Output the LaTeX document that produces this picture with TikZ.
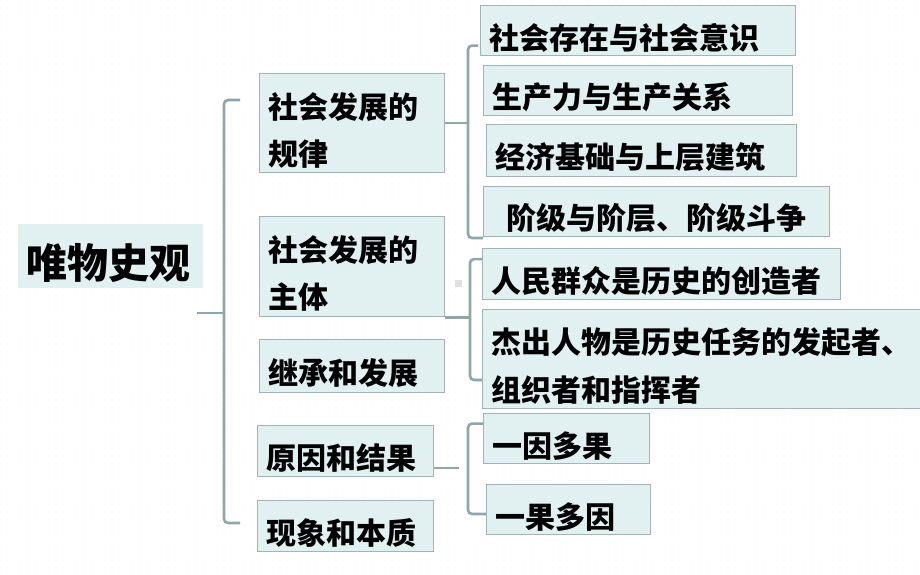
\documentclass[tikz,border=0pt]{standalone}
\usepackage{fontspec}
\setmainfont{Noto Sans CJK SC}
\usetikzlibrary{patterns.meta}
\definecolor{boxfill}{HTML}{E1F1F2}
\definecolor{boxline}{HTML}{A3B4B7}
\definecolor{braceline}{HTML}{8FA6AB}
\definecolor{dotcol}{HTML}{C9DEDC}
\tikzset{
  box/.style={draw=boxline, line width=1.2pt, fill=boxfill, anchor=north west,
    inner xsep=9pt, inner ysep=0pt, align=left,
    font=\fontsize{30pt}{47pt}\selectfont\bfseries,
    execute at begin node=\rule{0pt}{40pt}},
  rootbox/.style={box, draw=none, font=\fontsize{41pt}{48pt}\selectfont\bfseries,
    execute at begin node=\rule{0pt}{50pt}},
  brace/.style={draw=braceline, line width=2.6pt, rounded corners=4pt}
}
\begin{document}
\begin{tikzpicture}[x=1pt,y=-1pt]
\useasboundingbox (0,0) rectangle (920,575);
\fill[pattern={Dots[radius=0.45pt, distance=7pt]}, pattern color=dotcol] (0,0) rectangle (920,575);
% root
\node[rootbox, text width=167pt, minimum height=64pt] (hist) at (17,223) {唯物史观};
% first level
\node[box, text width=167pt, minimum height=99pt] (law) at (259,73) {社会发展的\\规律};
\node[box, text width=167pt, minimum height=100pt] (subj) at (259,216) {社会发展的\\主体};
\node[box, text width=167pt, minimum height=53pt] (inherit) at (259,339) {继承和发展};
\node[box, text width=158pt, minimum height=51pt] (cause) at (257,425) {原因和结果};
\node[box, text width=158pt, minimum height=51pt] (essence) at (257,500) {现象和本质};
% second level: law
\node[box, text width=297pt, minimum height=50pt] (being) at (480,5) {社会存在与社会意识};
\node[box, text width=291pt, minimum height=50pt] (prod) at (483,65) {生产力与生产关系};
\node[box, text width=292pt, minimum height=52pt] (base) at (486,124) {经济基础与上层建筑};
\node[box, text width=328pt, minimum height=50pt] (class) at (483,186) {\hspace{14pt}阶级与阶层、阶级斗争};
% second level: subject
\node[box, text width=340pt, minimum height=51pt] (masses) at (482,248) {人民群众是历史的创造者};
\node[box, text width=420pt, minimum height=99pt, font=\fontsize{30pt}{48pt}\selectfont\bfseries] (heroes) at (482,309) {杰出人物是历史任务的发起者、\\组织者和指挥者};
% second level: cause
\node[box, text width=148pt, minimum height=50pt] (onemany) at (483,413) {一因多果};
\node[box, text width=146pt, minimum height=50pt] (manyone) at (486,484) {一果多因};
% stray mark
\fill[black!12] (455,280) rectangle (462,287);
% main brace
\coordinate (mtop) at (240,100);
\coordinate (mbot) at (240,523);
\coordinate (mmid) at (197,313);
\draw[brace] (mtop) -- ++(-16,0) -- (mbot -| 224,0) -- (mbot);
\draw[brace, rounded corners=0pt] (mmid) -- (mmid -| 224,0);
% brace for law
\draw[brace] (being.west) ++(-2,15) -- ++(-10,0) |- (class.west |- 0,238);
\draw[brace, rounded corners=0pt] (law.east) -- (law.east -| 468,0);
% brace for subject
\draw[brace] (masses.west) ++(0,-15) -- ++(-12,0) |- (heroes.west |- 0,380);
\draw[brace, rounded corners=0pt] (subj.south east) -- (subj.south east -| 470,0);
% brace for cause
\draw[brace] (onemany.west) ++(0,-15) -- ++(-15,0) |- (manyone.west |- 0,514);
\draw[brace, rounded corners=0pt] (cause.east) ++(0,17) -- ++(25,0);
\end{tikzpicture}
\end{document}
